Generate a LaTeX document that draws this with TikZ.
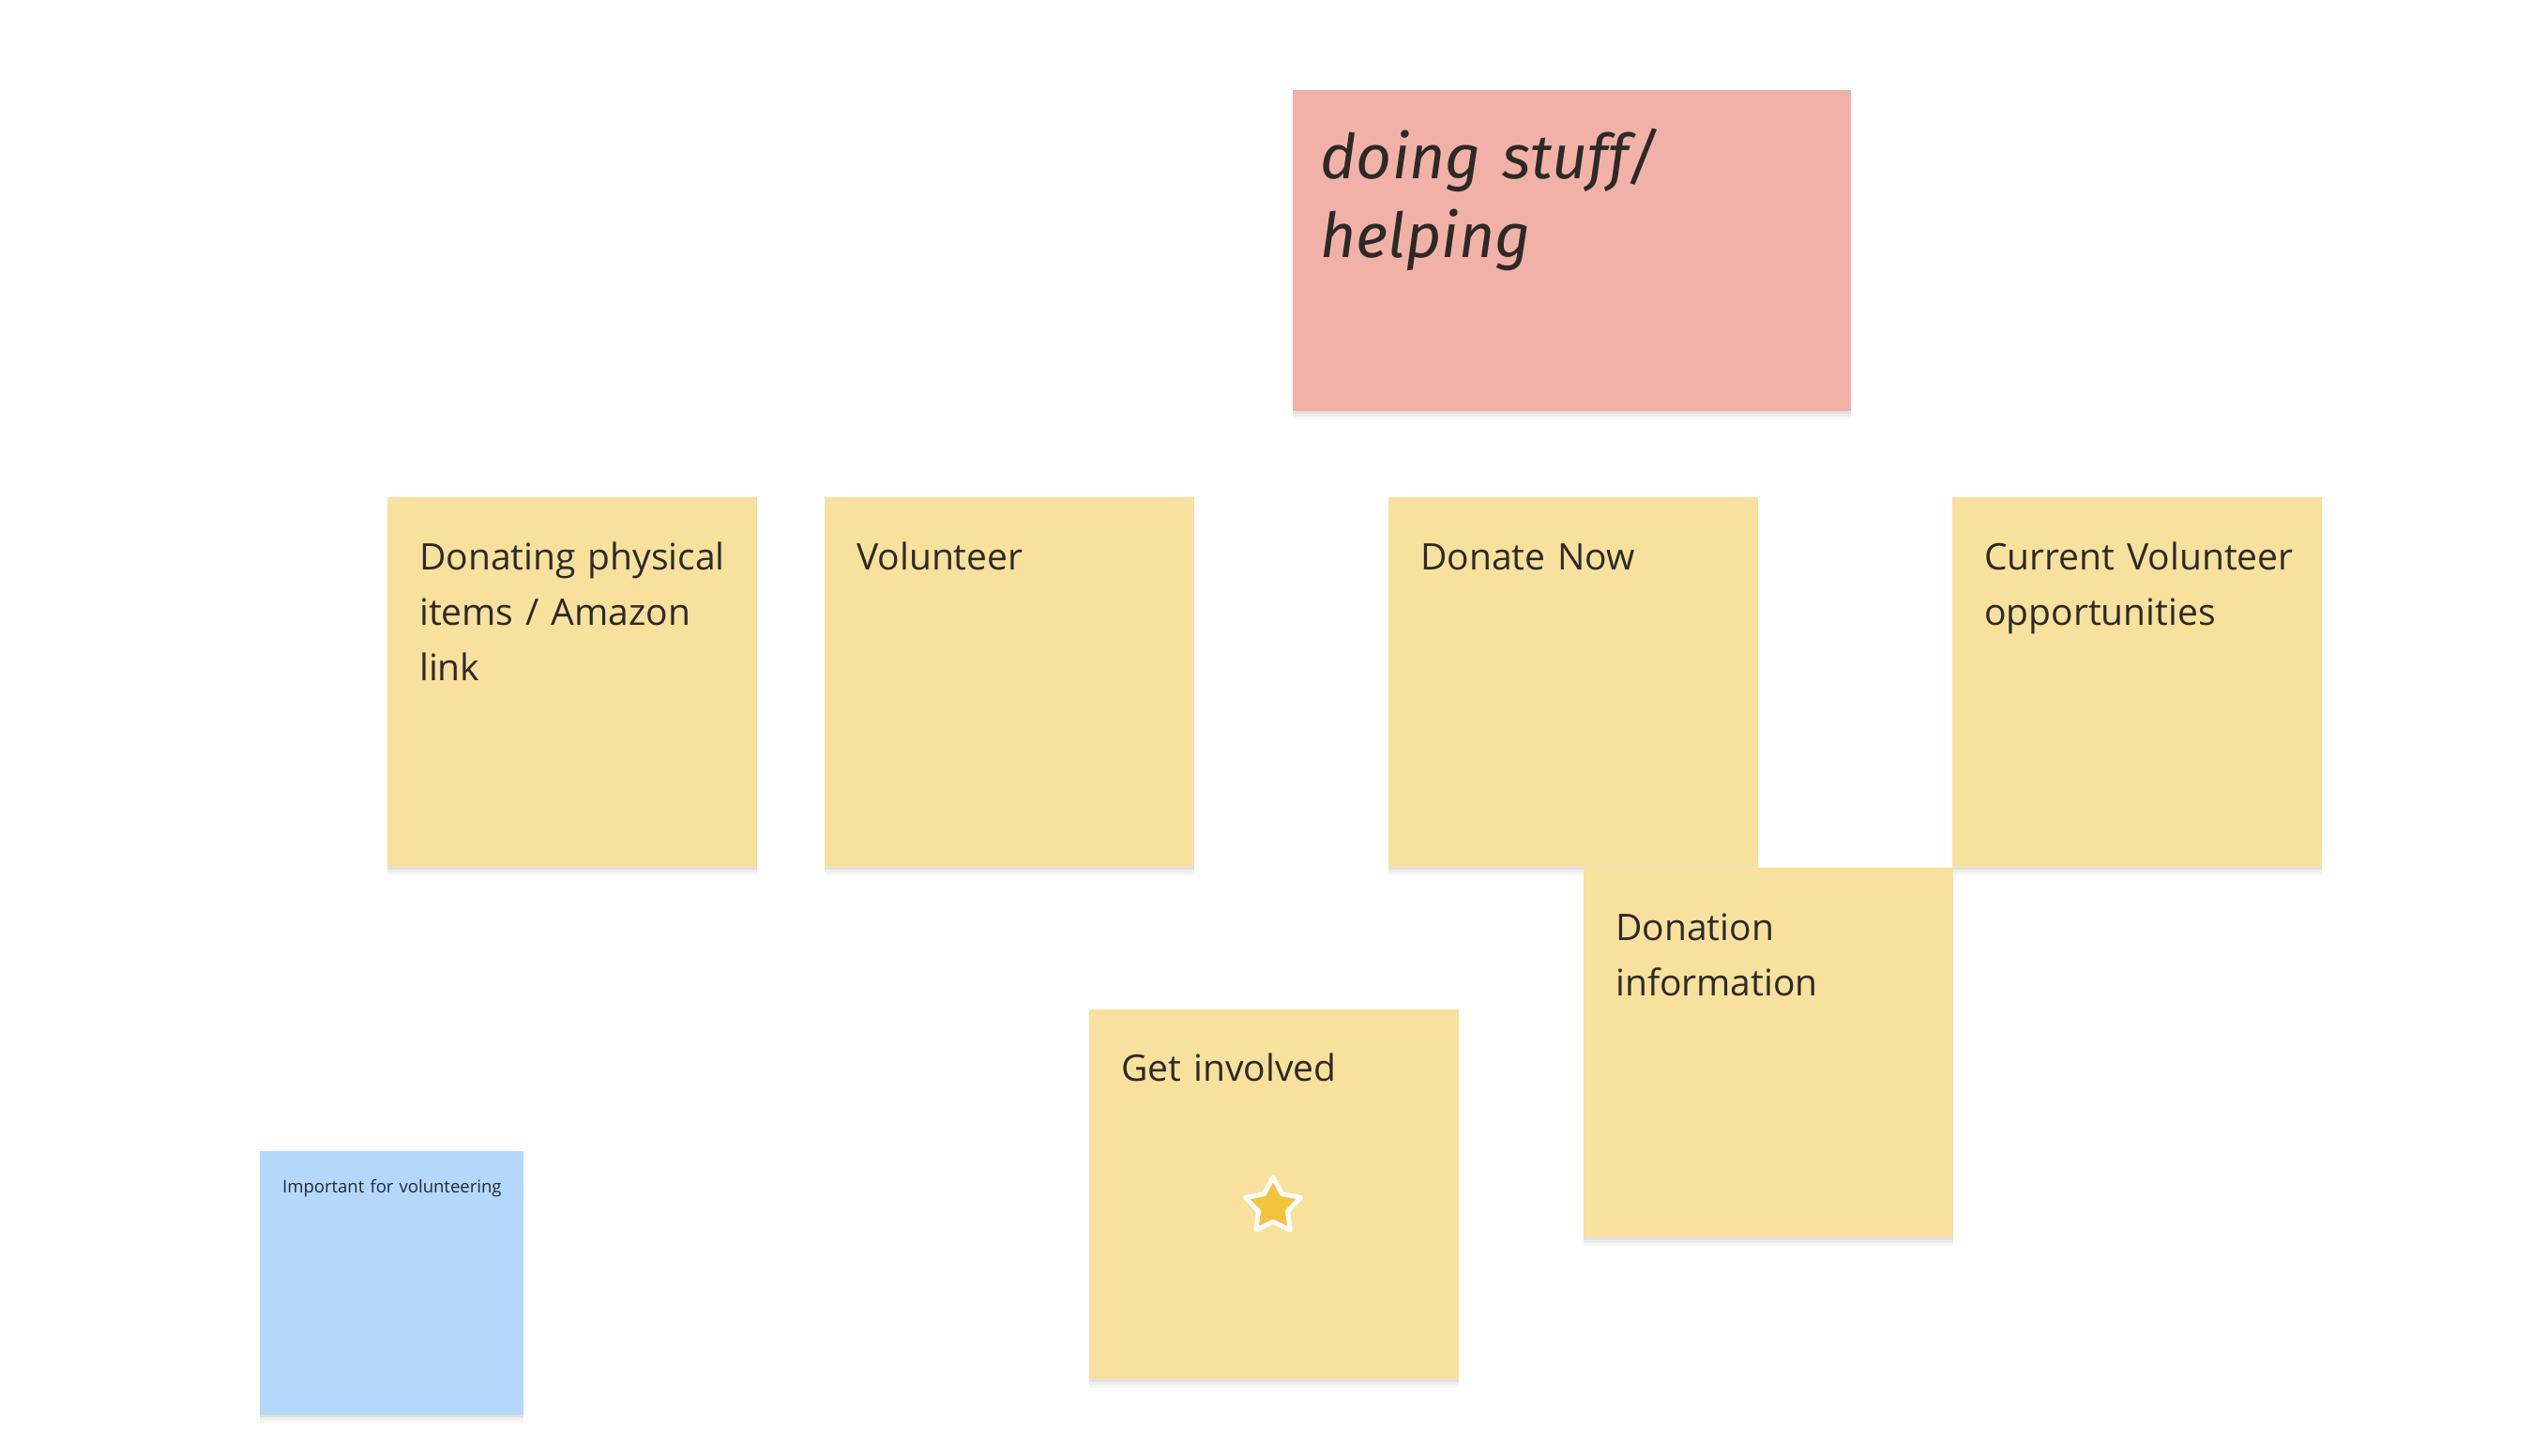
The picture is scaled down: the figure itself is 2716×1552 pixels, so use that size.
\documentclass[tikz,border=0pt]{standalone}
\usepackage{fontspec}
\setmainfont{Open Sans}
\newfontfamily\handfont{Fira Sans Italic}
\usetikzlibrary{shapes.geometric,shadows}
\definecolor{noteyellow}{HTML}{F8E09D}
\definecolor{notepink}{HTML}{F2B1A7}
\definecolor{noteblue}{HTML}{B3D8FA}
\definecolor{inkdark}{HTML}{2B2A26}
\definecolor{inkblue}{HTML}{1F2A36}
\definecolor{stargold}{HTML}{F4C33E}
\tikzset{
  notebase/.style={rectangle, inner sep=0pt, anchor=north west,
    drop shadow={shadow xshift=0pt, shadow yshift=-9pt, opacity=0.03, fill=black},
    drop shadow={shadow xshift=0pt, shadow yshift=-6pt, opacity=0.04, fill=black},
    drop shadow={shadow xshift=0pt, shadow yshift=-3pt, opacity=0.05, fill=black}},
  yellownote/.style={notebase, fill=noteyellow, minimum width=394pt, minimum height=394pt},
  pinknote/.style={notebase, fill=notepink, minimum width=595pt, minimum height=342pt},
  bluenote/.style={notebase, fill=noteblue, minimum width=281pt, minimum height=281pt},
  notetext/.style={anchor=base west, inner sep=0pt, text width=340pt, align=left,
    text=inkdark, font=\fontsize{39}{59}\selectfont},
  smalltext/.style={anchor=base west, inner sep=0pt, text width=250pt, align=left,
    text=inkblue, font=\fontsize{18.5}{26}\selectfont},
  handtext/.style={anchor=base west, inner sep=0pt, text width=540pt, align=left,
    text=inkdark, font=\handfont\fontsize{66}{84}\selectfont},
  starmark/.style={star, star points=5, star point ratio=1.9, minimum size=62pt,
    inner sep=0pt, fill=stargold, draw=white, line width=5pt, line join=round,
    drop shadow={shadow xshift=0pt, shadow yshift=-2pt, opacity=0.08, fill=black}}
}
\begin{document}
\begin{tikzpicture}[x=1pt,y=-1pt]
\fill[white] (0,0) rectangle (2716,1552);
\useasboundingbox (0,0) rectangle (2716,1552);

% header note
\node[pinknote] (hdr) at (1378,96) {};
\node[handtext] (hdrt) at ([xshift=29pt,yshift=-94pt]hdr.north west) {doing stuff/\\helping};

% top row
\node[yellownote] (dpi) at (413,530) {};
\node[notetext] (dpit) at ([xshift=34pt,yshift=-77pt]dpi.north west) {Donating physical\\items / Amazon\\link};

\node[yellownote] (vol) at (879,530) {};
\node[notetext] (volt) at ([xshift=34pt,yshift=-77pt]vol.north west) {Volunteer};

\node[yellownote] (don) at (1480,530) {};
\node[notetext] (dont) at ([xshift=34pt,yshift=-77pt]don.north west) {Donate Now};

\node[yellownote] (cvo) at (2081,530) {};
\node[notetext] (cvot) at ([xshift=34pt,yshift=-77pt]cvo.north west) {Current Volunteer\\opportunities};

% lower notes
\node[yellownote] (dinf) at (1688,925) {};
\node[notetext] (dinft) at ([xshift=34pt,yshift=-77pt]dinf.north west) {Donation\\information};

\node[yellownote] (get) at (1161,1076) {};
\node[notetext] (gett) at ([xshift=34pt,yshift=-76pt]get.north west) {Get involved};
\node[starmark] (star) at (1357,1286) {};

\node[bluenote] (imp) at (277,1227) {};
\node[smalltext] (impt) at ([xshift=24pt,yshift=-44pt]imp.north west) {Important for volunteering};
\end{tikzpicture}
\end{document}
